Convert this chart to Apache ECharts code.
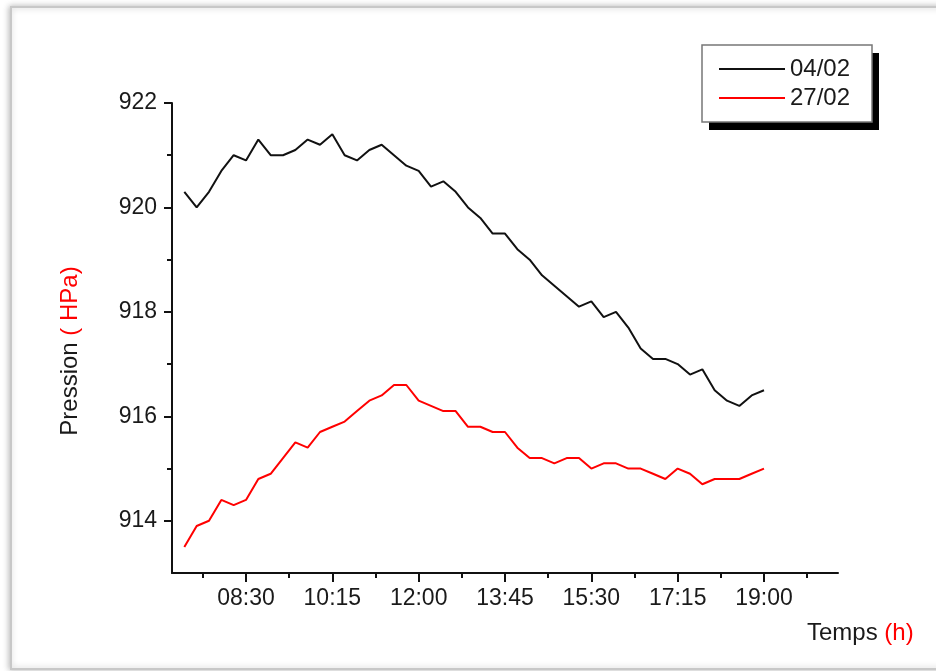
<!DOCTYPE html>
<html>
<head>
<meta charset="utf-8">
<script src="https://cdn.jsdelivr.net/npm/echarts@6/dist/echarts.min.js"></script>
<style>
html,body{margin:0;padding:0;background:#fff;}
#chart{width:936px;height:671px;}
</style>
</head>
<body>
<div id="chart"></div>
<script>
const times = ['07:15','07:30','07:45','08:00','08:15','08:30','08:45','09:00','09:15','09:30',
  '09:45','10:00','10:15','10:30','10:45','11:00','11:15','11:30','11:45','12:00',
  '12:15','12:30','12:45','13:00','13:15','13:30','13:45','14:00','14:15','14:30',
  '14:45','15:00','15:15','15:30','15:45','16:00','16:15','16:30','16:45','17:00',
  '17:15','17:30','17:45','18:00','18:15','18:30','18:45','19:00'];
const pressure0402 = [920.3, 920.0, 920.3, 920.7, 921.0, 920.9, 921.3, 921.0, 921.0, 921.1,
  921.3, 921.2, 921.4, 921.0, 920.9, 921.1, 921.2, 921.0, 920.8, 920.7,
  920.4, 920.5, 920.3, 920.0, 919.8, 919.5, 919.5, 919.2, 919.0, 918.7,
  918.5, 918.3, 918.1, 918.2, 917.9, 918.0, 917.7, 917.3, 917.1, 917.1,
  917.0, 916.8, 916.9, 916.5, 916.3, 916.2, 916.4, 916.5];
const pressure2702 = [913.5, 913.9, 914.0, 914.4, 914.3, 914.4, 914.8, 914.9, 915.2, 915.5,
  915.4, 915.7, 915.8, 915.9, 916.1, 916.3, 916.4, 916.6, 916.6, 916.3,
  916.2, 916.1, 916.1, 915.8, 915.8, 915.7, 915.7, 915.4, 915.2, 915.2,
  915.1, 915.2, 915.2, 915.0, 915.1, 915.1, 915.0, 915.0, 914.9, 914.8,
  915.0, 914.9, 914.7, 914.8, 914.8, 914.8, 914.9, 915.0];
const seriesNames = ['04/02', '27/02'];
const xTickLabels = ['08:30','10:15','12:00','13:45','15:30','17:15','19:00'];
const xAxisRange = ['07:00', '20:30'];
const yTickLabels = [914, 916, 918, 920, 922];
const yMinorTicks = [915, 917, 919, 921];
const yAxisRange = [913, 922];

function toMin(s){ const p = s.split(':'); return (+p[0]) * 60 + (+p[1]); }
function fmt(v){ const h = Math.floor(v / 60), m = Math.round(v - h * 60); return (h < 10 ? '0' : '') + h + ':' + (m < 10 ? '0' : '') + m; }

const xMajor = xTickLabels.map(toMin);
const halfStep = (xMajor[1] - xMajor[0]) / 2;
const xMinor = [xMajor[0] - halfStep].concat(xMajor.map(v => v + halfStep));
const xMin = toMin(xAxisRange[0]), xMax = toMin(xAxisRange[1]);

const d1 = times.map((t, i) => [toMin(t), pressure0402[i]]);
const d2 = times.map((t, i) => [toMin(t), pressure2702[i]]);

const chart = echarts.init(document.getElementById('chart'));
const labelFont = { fontFamily: 'Liberation Sans, Arial, sans-serif', fontSize: 23, color: '#1a1a1a' };
const axisLine = { show: true, lineStyle: { color: '#111', width: 2 } };

chart.setOption({
  animation: false,
  backgroundColor: '#fff',
  grid: { left: 172, top: 103, right: 98, bottom: 98, containLabel: false },
  xAxis: [
    {
      type: 'value', min: xMin, max: xMax, position: 'bottom',
      axisLine: axisLine,
      axisTick: { show: true, customValues: xMajor, length: 9, inside: false, lineStyle: { color: '#111', width: 2 } },
      axisLabel: Object.assign({ customValues: xMajor, margin: 14, formatter: fmt }, labelFont),
      splitLine: { show: false }
    },
    {
      type: 'value', min: xMin, max: xMax, position: 'bottom', gridIndex: 0,
      axisLine: { show: false },
      axisTick: { show: true, customValues: xMinor, length: 5, lineStyle: { color: '#111', width: 2 } },
      axisLabel: { show: false },
      splitLine: { show: false }
    }
  ],
  yAxis: [
    {
      type: 'value', min: yAxisRange[0], max: yAxisRange[1], position: 'left',
      axisLine: axisLine,
      axisTick: { show: true, customValues: yTickLabels, length: 8, lineStyle: { color: '#111', width: 2 } },
      axisLabel: Object.assign({ customValues: yTickLabels, margin: 15 }, labelFont),
      splitLine: { show: false }
    },
    {
      type: 'value', min: yAxisRange[0], max: yAxisRange[1], position: 'left', gridIndex: 0,
      axisLine: { show: false },
      axisTick: { show: true, customValues: yMinorTicks, length: 5, lineStyle: { color: '#111', width: 2 } },
      axisLabel: { show: false },
      splitLine: { show: false }
    }
  ],
  legend: {
    orient: 'vertical', left: 719, top: 57, padding: 0, itemGap: 5,
    icon: 'rect', itemWidth: 66, itemHeight: 2,
    textStyle: { fontFamily: 'Liberation Sans, Arial, sans-serif', fontSize: 24, color: '#1a1a1a' },
    data: seriesNames
  },
  graphic: [
    { type: 'rect', z: -10, silent: true,
      shape: { x: 11, y: 7, width: 940, height: 662 },
      style: { fill: '#fff', stroke: '#c8c8c8', lineWidth: 2, shadowBlur: 6, shadowColor: 'rgba(0,0,0,0.25)', shadowOffsetX: -1, shadowOffsetY: 0 } },
    { type: 'rect', z: 1, silent: true,
      shape: { x: 709, y: 53, width: 170, height: 77 },
      style: { fill: '#000' } },
    { type: 'rect', z: 2, silent: true,
      shape: { x: 702, y: 45, width: 170, height: 77 },
      style: { fill: '#fff', stroke: '#777', lineWidth: 1.5 } },
    { type: 'text', z: 5, silent: true, x: 70, y: 351, rotation: Math.PI / 2,
      style: {
        text: '{a|Pression} {b|( HPa)}', align: 'center', verticalAlign: 'middle',
        font: '24px Liberation Sans, Arial, sans-serif',
        rich: {
          a: { fontSize: 24, fontFamily: 'Liberation Sans, Arial, sans-serif', fill: '#1a1a1a' },
          b: { fontSize: 24, fontFamily: 'Liberation Sans, Arial, sans-serif', fill: '#ff0000' }
        }
      } },
    { type: 'text', z: 5, silent: true, x: 807, y: 633,
      style: {
        text: '{a|Temps} {b|(h)}', align: 'left', verticalAlign: 'middle',
        font: '24px Liberation Sans, Arial, sans-serif',
        rich: {
          a: { fontSize: 24, fontFamily: 'Liberation Sans, Arial, sans-serif', fill: '#1a1a1a' },
          b: { fontSize: 24, fontFamily: 'Liberation Sans, Arial, sans-serif', fill: '#ff0000' }
        }
      } }
  ],
  series: [
    { name: seriesNames[0], type: 'line', xAxisIndex: 0, yAxisIndex: 0, data: d1, symbol: 'none',
      lineStyle: { color: '#111', width: 2 }, itemStyle: { color: '#111' } },
    { name: seriesNames[1], type: 'line', xAxisIndex: 0, yAxisIndex: 0, data: d2, symbol: 'none',
      lineStyle: { color: '#ff0000', width: 2 }, itemStyle: { color: '#ff0000' } }
  ]
});
</script>
</body>
</html>
